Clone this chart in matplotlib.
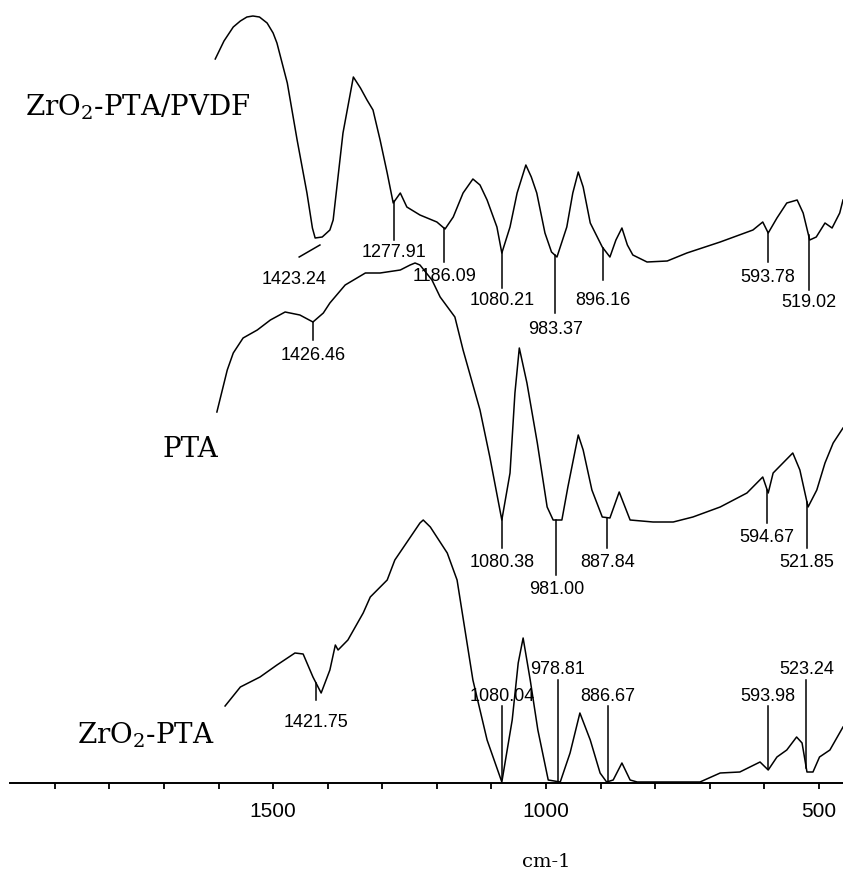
import numpy as np
import matplotlib
matplotlib.use("Agg")
import matplotlib.pyplot as plt
from matplotlib import font_manager

# ---------------- data (wavenumber cm-1, relative transmittance height) -------------
pvdf_wn = [1606, 1590, 1573, 1560, 1548, 1537, 1525, 1511, 1500, 1493, 1474, 1456, 1438,
           1428, 1423, 1410, 1396, 1390, 1372, 1353, 1340, 1328, 1317, 1304, 1291, 1280,
           1267, 1255, 1231, 1200, 1185, 1170, 1152, 1134, 1121, 1108, 1090, 1081, 1066,
           1053, 1037, 1027, 1017, 1002, 990, 980, 962, 951, 941, 932, 919, 897, 883,
           872, 861, 851, 841, 815, 778, 742, 681, 621, 603, 593, 577, 559, 540, 529,
           517, 505, 489, 476, 462, 456]
pvdf_t = [724, 742, 756, 762, 766, 767, 766, 760, 750, 740, 700, 643, 590,
          555, 545, 546, 553, 563, 650, 706, 695, 683, 673, 643, 610, 580,
          590, 576, 568, 561, 554, 566, 590, 604, 598, 583, 556, 530, 556,
          590, 618, 606, 590, 550, 531, 526, 556, 590, 611, 596, 560, 536, 526,
          543, 555, 538, 528, 521, 522, 530, 541, 553, 561, 550, 565, 580, 583, 570,
          543, 546, 560, 555, 570, 583]

pta_wn = [1603, 1584, 1573, 1555, 1529, 1505, 1478, 1451, 1427, 1408, 1396, 1368, 1331,
          1304, 1267, 1249, 1240, 1231, 1209, 1194, 1167, 1152, 1121, 1103,
          1081, 1066, 1057, 1049, 1035, 1016, 998, 987, 971, 960, 941, 932, 916, 897,
          883, 866, 846, 804, 767, 731, 681, 632, 603, 593, 584, 566, 548, 535, 520,
          504, 489, 474, 456]
pta_t = [371, 413, 430, 445, 453, 463, 471, 468, 461, 470, 480, 498, 510,
         510, 513, 518, 520, 518, 503, 486, 466, 433, 373, 326,
         263, 310, 390, 435, 400, 340, 276, 263, 263, 296, 348, 333, 293, 266,
         265, 291, 263, 261, 261, 266, 276, 290, 306, 290, 310, 320, 330, 313, 276,
         293, 320, 340, 355]

zr_wn = [1588, 1560, 1524, 1493, 1460, 1445, 1427, 1412, 1396, 1386, 1381, 1363, 1335,
         1322, 1291, 1277, 1231, 1225, 1212, 1181, 1163, 1134, 1108, 1081, 1062, 1051,
         1042, 1029, 1015, 996, 974, 956, 938, 919, 901, 889, 877, 861, 846, 833, 718,
         681, 645, 608, 593, 577, 559, 541, 531, 522, 511, 499, 480, 456]
zr_t = [77, 96, 106, 118, 130, 129, 106, 90, 113, 138, 133, 143, 170,
        186, 203, 223, 260, 263, 256, 230, 203, 103, 43, 1, 63, 120,
        145, 103, 53, 3, 1, 30, 70, 43, 10, 1, 3, 20, 3, 1, 1,
        10, 11, 21, 13, 26, 33, 46, 40, 11, 11, 26, 33, 56]

series_names = ["ZrO$_2$-PTA/PVDF", "PTA", "ZrO$_2$-PTA"]

pvdf_peaks = [1423.24, 1277.91, 1186.09, 1080.21, 983.37, 896.16, 593.78, 519.02]
pta_peaks = [1426.46, 1080.38, 981.00, 887.84, 594.67, 521.85]
zr_peaks = [1421.75, 1080.04, 978.81, 886.67, 593.98, 523.24]

tick_major = [1500, 1000, 500]

# ---------------- layout (annotation placement, not data) ----------------------------
# (leader-line end height, label centre height) per peak
pvdf_layout = [(526, 506), (543, 533), (521, 509), (495, 485), (470, 456), (503, 485), (521, 508), (493, 483)]
pta_layout = [(443, 430), (235, 223), (208, 196), (235, 223), (260, 248), (235, 223)]
zr_layout = [(83, 63), (77, 89), (103, 116), (77, 89), (77, 89), (103, 116)]
# special slanted leader for 1423.24: start/end wavenumber offsets, label offset
slant = {"start_dw": -9, "start_h": 538, "end_dw": 29, "label_dw": 39}
name_pos = [(1747, 668), (1652, 326), (1734, 40)]

# ---------------- fonts ---------------------------------------------------------------
avail = {f.name for f in font_manager.fontManager.ttflist}
if "Liberation Sans Narrow" in avail:
    num_family = ["Liberation Sans Narrow", "DejaVu Sans"]
    peak_fs, tick_fs = 15, 17
elif "Liberation Sans" in avail:
    num_family = ["Liberation Sans", "DejaVu Sans"]
    peak_fs, tick_fs = 13, 15
else:
    num_family = ["DejaVu Sans"]
    peak_fs, tick_fs = 11, 13
serif_family = ["DejaVu Serif"]
plt.rcParams["mathtext.fontset"] = "dejavuserif"

LW = 1.1
fig = plt.figure(figsize=(8.43, 8.71), dpi=100)
ax = fig.add_axes([10 / 843, 88 / 871, 833 / 843, 783 / 871])
ax.set_xlim(1982, 456)
ax.set_ylim(0, 783)

for wn, t in [(pvdf_wn, pvdf_t), (pta_wn, pta_t), (zr_wn, zr_t)]:
    ax.plot(wn, t, color="black", lw=LW, clip_on=False)


def curve_at(wn, t, w):
    return float(np.interp(-w, -np.asarray(wn, float), np.asarray(t, float)))


def label(w, hc, txt):
    ax.text(w, hc - 7, txt, ha="center", va="baseline", fontsize=peak_fs,
            family=num_family, color="black")


groups = [(pvdf_wn, pvdf_t, pvdf_peaks, pvdf_layout),
          (pta_wn, pta_t, pta_peaks, pta_layout),
          (zr_wn, zr_t, zr_peaks, zr_layout)]
for gi, (wn, t, peaks, layout) in enumerate(groups):
    for pi, (p, (end_h, lab_h)) in enumerate(zip(peaks, layout)):
        txt = f"{p:.2f}"
        if gi == 0 and pi == 0:
            ax.plot([p + slant["start_dw"], p + slant["end_dw"]], [slant["start_h"], end_h],
                    color="black", lw=LW)
            label(p + slant["label_dw"], lab_h, txt)
            continue
        start = curve_at(wn, t, p)
        ax.plot([p, p], [start, end_h], color="black", lw=LW, clip_on=False)
        label(p, lab_h, txt)

for name, (x, y) in zip(series_names, name_pos):
    ax.text(x, y, name, ha="center", va="baseline", fontsize=20, family=serif_family)

# axes styling
for s in ["top", "left", "right"]:
    ax.spines[s].set_visible(False)
ax.spines["bottom"].set_linewidth(1.4)
ax.set_yticks([])
ax.set_xticks(tick_major)
ax.set_xticks(np.arange(1900, 455, -100), minor=True)
ax.tick_params(axis="x", which="both", direction="out", length=4.5, width=1.3,
               pad=9, labelsize=tick_fs)
for lab in ax.get_xticklabels():
    lab.set_family(num_family)
ax.text(1000, -79, "cm-1", ha="center", va="center", fontsize=14, family=serif_family,
        clip_on=False)

fig.savefig("out.png", dpi=100, facecolor="white")
